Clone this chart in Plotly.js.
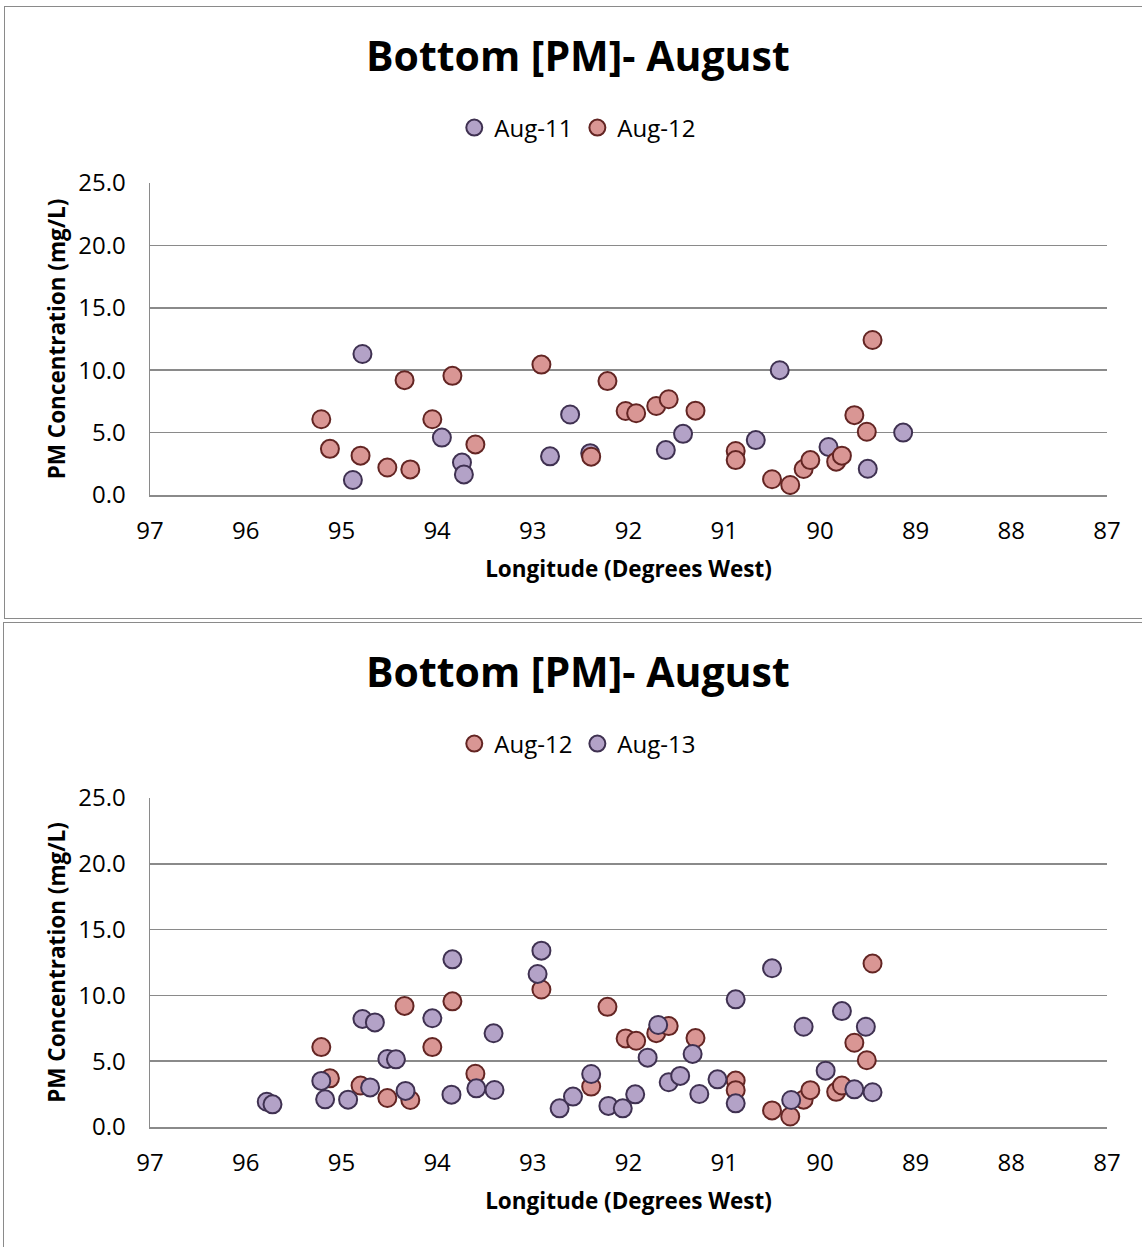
<!DOCTYPE html>
<html>
<head>
<meta charset="utf-8">
<script src="https://cdn.plot.ly/plotly-3.0.1.min.js"></script>
<style>
  html, body { margin: 0; padding: 0; background: #ffffff; width: 1142px; height: 1247px; overflow: hidden; }
  #chart1 { position: absolute; left: 0; top: 0; width: 1142px; height: 620px; }
  #chart2 { position: absolute; left: 0; top: 620px; width: 1142px; height: 627px; }
  .frame { position: absolute; box-sizing: border-box; border: 1.5px solid #8a8a8a; pointer-events: none; }
  #frame1 { left: 4px; top: 6px; width: 1150px; height: 613px; }
  #frame2 { left: 3px; top: 622px; width: 1150px; height: 640px; }
</style>
</head>
<body>
<div id="chart1"></div>
<div id="chart2"></div>
<div class="frame" id="frame1"></div>
<div class="frame" id="frame2"></div>
<script>
// ---- Data (longitude in degrees West, PM concentration in mg/L) ----
const chartTitle = "Bottom [PM]- August";
const xTitle = "Longitude (Degrees West)";
const yTitle = "PM Concentration (mg/L)";
const xTickVals = [97, 96, 95, 94, 93, 92, 91, 90, 89, 88, 87];
const yTickVals = [0, 5, 10, 15, 20, 25];

const aug11Lon = [94.78, 94.88, 93.95, 93.74, 93.72, 92.82, 92.61, 92.40, 91.61, 91.43, 90.67, 90.42, 89.91, 89.50, 89.13];
const aug11PM  = [11.3, 1.2, 4.6, 2.6, 1.65, 3.1, 6.45, 3.35, 3.6, 4.9, 4.4, 10.0, 3.85, 2.1, 5.0];

const aug12Lon = [95.21, 95.12, 94.80, 94.52, 94.34, 94.28, 94.05, 93.84, 93.60, 92.91, 92.22, 92.39, 92.03, 91.92, 91.71, 91.58, 91.30, 90.88, 90.88, 90.50, 90.31, 90.17, 90.10, 89.83, 89.77, 89.64, 89.51, 89.45];
const aug12PM  = [6.07, 3.7, 3.15, 2.2, 9.2, 2.05, 6.07, 9.55, 4.05, 10.45, 9.13, 3.07, 6.73, 6.55, 7.13, 7.67, 6.76, 3.53, 2.8, 1.26, 0.8, 2.08, 2.8, 2.67, 3.15, 6.4, 5.07, 12.42];

const aug13Lon = [95.78, 95.72, 95.21, 95.17, 94.93, 94.78, 94.70, 94.65, 94.52, 94.43, 94.33, 94.05, 93.85, 93.84, 93.59, 93.41, 93.40, 92.95, 92.91, 92.72, 92.58, 92.39, 92.21, 92.06, 91.93, 91.80, 91.69, 91.58, 91.46, 91.33, 91.26, 91.07, 90.88, 90.88, 90.50, 90.30, 90.17, 89.94, 89.77, 89.64, 89.52, 89.45];
const aug13PM  = [1.92, 1.72, 3.50, 2.10, 2.08, 8.21, 3.01, 7.95, 5.17, 5.14, 2.74, 8.26, 2.46, 12.74, 2.94, 7.12, 2.81, 11.63, 13.40, 1.42, 2.31, 4.03, 1.60, 1.42, 2.48, 5.27, 7.75, 3.40, 3.88, 5.55, 2.51, 3.62, 9.70, 1.80, 12.06, 2.05, 7.62, 4.28, 8.81, 2.86, 7.62, 2.64];

// ---- Styles ----
const FONT = "Open Sans, Noto Sans, sans-serif";
const purple = { color: "#B3A2C7", line: { color: "#3F3151", width: 2 }, size: 18 };
const red    = { color: "#D99694", line: { color: "#632523", width: 2 }, size: 18 };

function trace(name, x, y, marker) {
  return { type: "scatter", mode: "markers", name: name, x: x, y: y, marker: marker, hoverinfo: "x+y" };
}

function layout(marginTop, marginBottom, height, titleY, legendY) {
  return {
    width: 1142, height: height,
    paper_bgcolor: "rgba(0,0,0,0)", plot_bgcolor: "#ffffff",
    margin: { l: 150, r: 35, t: marginTop, b: marginBottom },
    font: { family: FONT, color: "#000000", size: 24 },
    title: { text: "<b>" + chartTitle + "</b>", font: { family: FONT, size: 41, color: "#000" },
             x: 0.506, xref: "container", xanchor: "center", y: titleY, yanchor: "middle", yref: "container" },
    showlegend: true,
    legend: { orientation: "h", x: 0.447, xanchor: "center", y: legendY, yanchor: "middle", yref: "container",
              font: { family: FONT, size: 24, color: "#000" }, itemwidth: 20, tracegroupgap: 0,
              bgcolor: "rgba(0,0,0,0)" },
    xaxis: {
      range: [97, 87], autorange: false, tickmode: "array", tickvals: xTickVals,
      ticktext: xTickVals.map(String), showgrid: false, zeroline: false,
      showline: true, linecolor: "#8a8a8a", linewidth: 1.5, ticks: "",
      ticklabelstandoff: 14, tickfont: { family: FONT, size: 24 },
      title: { text: "<b>" + xTitle + "</b>", font: { family: FONT, size: 22.5 }, standoff: 16 }
    },
    yaxis: {
      range: [0, 25], autorange: false, tickmode: "array", tickvals: yTickVals,
      ticktext: yTickVals.map(v => v.toFixed(1)), showgrid: true, gridcolor: "#8a8a8a", gridwidth: 1.5,
      zeroline: false, showline: true, linecolor: "#8a8a8a", linewidth: 1.5, ticks: "",
      ticklabelstandoff: 18, tickfont: { family: FONT, size: 24 },
      title: { text: "<b>" + yTitle + "</b>", font: { family: FONT, size: 22.5 }, standoff: 6 }
    }
  };
}

const config = { staticPlot: true, displayModeBar: false };

Plotly.newPlot("chart1",
  [trace("Aug-11", aug11Lon, aug11PM, purple), trace("Aug-12", aug12Lon, aug12PM, red)],
  layout(183, 125, 620, 1 - 57 / 620, 1 - 128 / 620), config);

Plotly.newPlot("chart2",
  [trace("Aug-12", aug12Lon, aug12PM, red), trace("Aug-13", aug13Lon, aug13PM, purple)],
  layout(178, 120, 627, 1 - 53 / 627, 1 - 124 / 627), config);
</script>
</body>
</html>
